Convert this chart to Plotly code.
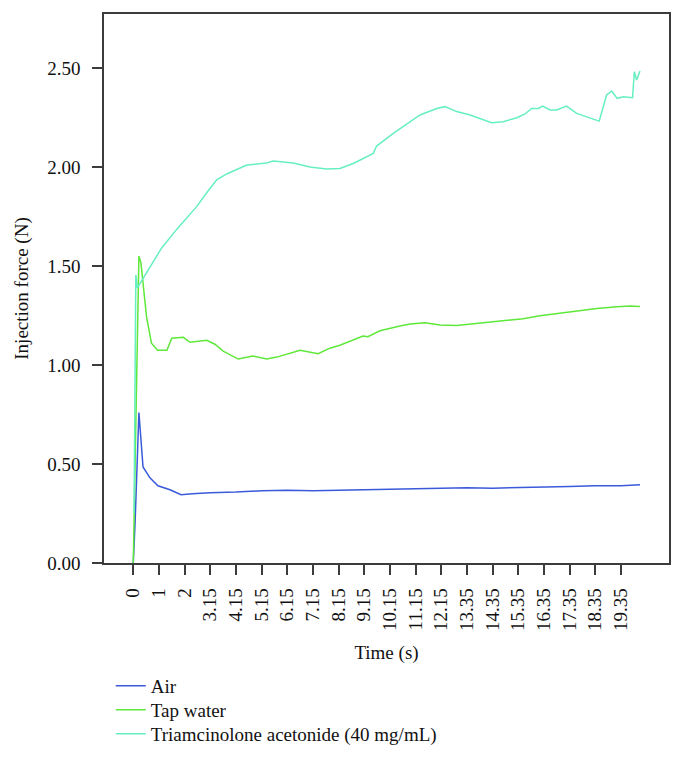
import plotly.graph_objects as go

# x positions are in units of the evenly spaced time-axis ticks
tick_labels = ["0", "1", "2", "3.15", "4.15", "5.15", "6.15", "7.15", "8.15", "9.15",
               "10.15", "11.15", "12.15", "13.35", "14.35", "15.35", "16.35", "17.35",
               "18.35", "19.35"]
tick_pos = list(range(len(tick_labels)))

air_x = [0, 0.07, 0.22, 0.38, 0.65, 0.96, 1.43, 1.86, 2.3, 3, 4, 5, 6, 7, 8, 9, 10,
         11, 12, 13, 14, 15, 16, 17, 18, 19, 19.74]
air_y = [0, 0.2, 0.76, 0.485, 0.43, 0.39, 0.37, 0.345, 0.35, 0.355, 0.358, 0.365,
         0.367, 0.365, 0.367, 0.37, 0.372, 0.374, 0.377, 0.38, 0.378, 0.38, 0.382,
         0.386, 0.39, 0.39, 0.395]

tap_x = [0, 0.08, 0.22, 0.3, 0.52, 0.71, 0.95, 1.31, 1.5, 1.95, 2.21, 2.86, 3.18,
         3.5, 4.09, 4.66, 5.2, 5.59, 6.5, 7.2, 7.66, 8.05, 8.95, 9.14, 9.61, 10.39,
         10.78, 11.36, 11.95, 12.6, 13.64, 14.42, 15.19, 15.84, 16.5, 17.14, 18.06,
         18.84, 19.35, 19.74]
tap_y = [0, 0.6, 1.55, 1.515, 1.24, 1.11, 1.075, 1.075, 1.135, 1.14, 1.115, 1.125,
         1.105, 1.07, 1.03, 1.045, 1.03, 1.04, 1.075, 1.057, 1.085, 1.10, 1.146, 1.143,
         1.173, 1.197, 1.207, 1.214, 1.202, 1.2, 1.214, 1.222, 1.234, 1.249, 1.261,
         1.269, 1.286, 1.294, 1.298, 1.295]

tri_x = [0.03, 0.1, 0.16, 1.1, 1.69, 2.21, 2.47, 2.86, 3.25, 3.64, 4.16, 4.42, 5.2,
         5.45, 6.23, 6.88, 7.53, 8.05, 8.57, 9.35, 9.48, 10.13, 11.17, 11.82, 12.14,
         12.6, 13.12, 13.96, 14.41, 14.94, 15.26, 15.52, 15.78, 15.95, 16.23, 16.49,
         16.88, 17.27, 18.15, 18.44, 18.64, 18.85, 19.09, 19.45, 19.52, 19.61, 19.74]
tri_y = [0.25, 1.455, 1.39, 1.59, 1.685, 1.76, 1.80, 1.87, 1.935, 1.965, 1.995, 2.01,
         2.02, 2.03, 2.02, 2.0, 1.99, 1.993, 2.018, 2.069, 2.106, 2.17, 2.263, 2.296,
         2.305, 2.28, 2.263, 2.224, 2.229, 2.249, 2.268, 2.296, 2.296, 2.308, 2.288,
         2.288, 2.308, 2.271, 2.232, 2.364, 2.384, 2.347, 2.355, 2.35, 2.481, 2.44,
         2.485]

y_ticks = [0, 0.5, 1.0, 1.5, 2.0, 2.5]

FONT = "Liberation Serif"
TXT = "#111111"

fig = go.Figure()
fig.add_trace(go.Scatter(x=air_x, y=air_y, mode="lines", name="Air", legend="legend",
                         line=dict(color="#3a5ad9", width=1.5)))
fig.add_trace(go.Scatter(x=tap_x, y=tap_y, mode="lines", name="Tap water", legend="legend2",
                         line=dict(color="#5ee83a", width=1.5)))
fig.add_trace(go.Scatter(x=tri_x, y=tri_y, mode="lines", legend="legend3",
                         name="Triamcinolone acetonide (40 mg/mL)",
                         line=dict(color="#66efc0", width=1.5)))

# plot area: 549 px tall; legend rows at ~686, 710, 734 px (page coords)
def leg(y):
    return dict(x=0.012, y=y, xanchor="left", yanchor="middle",
                font=dict(family=FONT, size=19, color=TXT),
                bgcolor="rgba(0,0,0,0)", itemwidth=30)

fig.update_layout(
    width=676, height=757,
    margin=dict(l=96, r=15, t=6, b=202, autoexpand=False),
    paper_bgcolor="white", plot_bgcolor="white",
    font=dict(family=FONT, size=19, color=TXT),
    showlegend=True,
    legend=leg((563 - 686) / 549),
    legend2=leg((563 - 710) / 549),
    legend3=leg((563 - 734) / 549),
)
fig.update_xaxes(
    range=[-1.14, 20.87], tickmode="array", tickvals=tick_pos, ticktext=tick_labels,
    tickangle=-90, ticks="outside", ticklen=10, tickcolor="#3c3c3c", tickwidth=1.5,
    showline=True, linecolor="#3c3c3c", linewidth=1.5, mirror=True, automargin=False,
    showgrid=False, zeroline=False, ticklabelstandoff=6,
    title=dict(text="Time (s)", standoff=16, font=dict(family=FONT, size=19)),
)
fig.update_yaxes(
    range=[0, 2.773], tickmode="array", tickvals=y_ticks, tickformat=".2f",
    ticks="outside", ticklen=10, tickcolor="#3c3c3c", tickwidth=1.5,
    showline=True, linecolor="#3c3c3c", linewidth=1.5, mirror=True, automargin=False,
    showgrid=False, zeroline=False, ticklabelstandoff=8,
    title=dict(text="Injection force (N)", standoff=14, font=dict(family=FONT, size=19)),
)

fig.write_html("out.html")
